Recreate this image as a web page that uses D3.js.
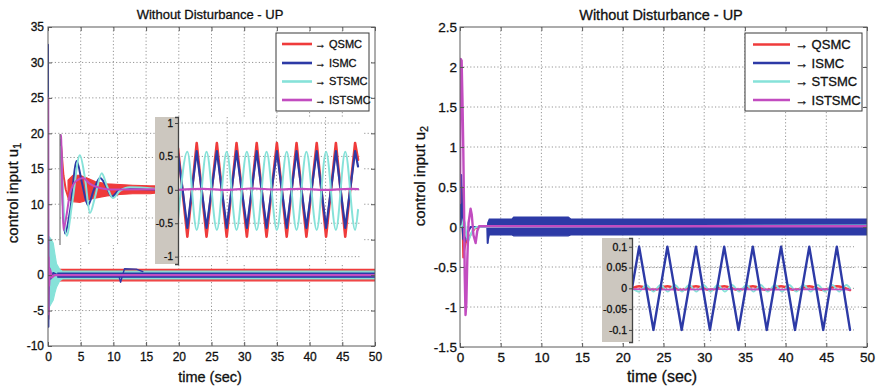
<!DOCTYPE html>
<html>
<head>
<meta charset="utf-8">
<script src="https://cdn.jsdelivr.net/npm/d3@7"></script>
<style>
  body { margin: 0; background: #fff; }
  svg { display: block; }
  text { font-family: Arial, "Liberation Sans", sans-serif; fill: #111; stroke: #111; stroke-width: 0.3px; }
</style>
</head>
<body>
<svg id="fig" width="877" height="391"></svg>
<script>
// ---------------- data ----------------
const seriesNames = ["QSMC", "ISMC", "STSMC", "ISTSMC"];
const timeTicks = [0, 5, 10, 15, 20, 25, 30, 35, 40, 45, 50];
const u1Ticks = [-10, -5, 0, 5, 10, 15, 20, 25, 30, 35];
const u2Ticks = [-1.5, -1, -0.5, 0, 0.5, 1, 1.5, 2, 2.5];

// u1 : start-up transient
const u1QsmcT = [0, 0.03, 0.06, 0.1, 0.2, 0.35, 0.6, 1.0, 1.6];
const u1QsmcV = [0, -3, -6.2, -2.5, 1.5, -0.8, 0.4, -0.2, 0];
const u1IsmcT = [0, 0.02, 0.06, 0.1, 0.2, 0.4, 0.8, 1.5];
const u1IsmcV = [32.5, 10, -7.3, -3, 1, -0.5, 0.3, 0];
const u1IstsmcT = [0, 0.02, 0.05, 0.09, 0.15, 0.3, 0.6, 1.0, 50];
const u1IstsmcV = [25, 5, -5.5, 2.5, -1.5, 0.8, -0.3, 0, 0];
// u1 : chattering envelopes (time, lower, upper)
const u1QsmcBandT = [1.8, 50];
const u1QsmcBandLo = [-0.8, -0.8];
const u1QsmcBandHi = [0.8, 0.8];
const u1IsmcBandT = [1.5, 50];
const u1IsmcBandLo = [-0.3, -0.3];
const u1IsmcBandHi = [0.3, 0.3];
const u1StsmcBandT = [0, 0.2, 0.5, 0.8, 1.05, 1.3, 1.8, 2.2, 50];
const u1StsmcBandLo = [-4.5, -4.5, -4, -3.5, -2.5, -1.7, -0.8, -0.55, -0.55];
const u1StsmcBandHi = [5.4, 5.4, 5, 4.5, 3, 1.6, 0.8, 0.55, 0.55];
// u1 : ISMC excursion around t = 11 s
const u1IsmcBlipT = [10.8, 11.1, 11.4, 11.7, 13.5, 14.5];
const u1IsmcBlipV = [0, -1, 0, 0.9, 0.85, 0.5];

// u1 zoom A : settling (local time, u1 value)
const zaQsmcT = [0.03, 0.12, 0.2, 0.28];
const zaQsmcV = [18.5, 14, 12, 11];
const zaQsmcBandT = [0.28, 0.45, 0.69, 0.94, 1.22, 1.63, 2.08, 2.53, 3.13, 3.3];
const zaQsmcBandLo = [10.6, 10.3, 10.2, 10.5, 10.8, 11.1, 11.3, 11.4, 11.4, 11.5];
const zaQsmcBandHi = [13.3, 14.0, 14.0, 13.6, 13.1, 12.8, 12.7, 12.6, 12.5, 12.5];
const zaIsmcT = [0.03, 0.17, 0.35, 0.58, 0.76, 0.97, 1.18, 1.39, 1.6, 1.8, 2.02, 2.26, 3.3];
const zaIsmcV = [19, 5.8, 9, 16.0, 13, 9.8, 12, 13.6, 12.5, 11.0, 11.8, 12.1, 12];
const zaStsmcT = [0.03, 0.23, 0.42, 0.69, 0.87, 1.04, 1.22, 1.45, 1.63, 1.84, 2.08, 2.43, 3.3];
const zaStsmcV = [18, 5.5, 10, 16.8, 13.5, 8.7, 11, 14.3, 12.5, 10.8, 11.8, 12.3, 12.1];
const zaIstsmcT = [0.0, 0.035, 0.115, 0.21, 0.35, 0.56, 0.8, 1.04, 1.39, 1.74, 3.3];
const zaIstsmcV = [19.8, 19.5, 6.3, 8, 11.5, 13.2, 13.6, 12.8, 12.2, 12, 12.05];
const zaGridT = [1, 2, 3];
const zaGridV = [8, 16.5];

// u1 zoom B : steady-state chattering
const zbT = [0, 0.19, 0.38, 0.58, 0.79, 0.99, 1.19, 1.40, 1.60, 1.80, 2.01, 2.21, 2.41, 2.61, 2.82, 3.01, 3.21, 3.40, 3.60, 3.66];
const zbQsmcV = [0.62, -0.7, 0.7, -0.7, 0.7, -0.7, 0.7, -0.7, 0.7, -0.7, 0.7, -0.7, 0.7, -0.7, 0.7, -0.7, 0.7, -0.7, 0.7, 0.45];
const zbIsmcV = [0.55, -0.57, 0.58, -0.57, 0.58, -0.57, 0.58, -0.57, 0.58, -0.57, 0.58, -0.57, 0.58, -0.57, 0.58, -0.57, 0.58, -0.57, 0.58, 0.35];
const zbStsmcV = [-0.45, 0.57, -0.6, 0.57, -0.6, 0.57, -0.6, 0.57, -0.6, 0.57, -0.6, 0.57, -0.6, 0.57, -0.6, 0.57, -0.6, 0.57, -0.6, -0.3];
const zbIstsmcT = [0, 0.5, 1.0, 1.5, 2.0, 2.5, 3.0, 3.5, 3.66];
const zbIstsmcV = [0.0, 0.015, 0.0, 0.02, 0.005, 0.015, 0.0, 0.015, 0.01];
const zbTicksV = [-1, -0.5, 0, 0.5, 1];
const zbGridT = [1, 2, 3];

// u2 : start-up transient
const u2QsmcT = [0, 0.2, 0.3, 0.4, 0.5, 0.7, 1.0, 1.4, 1.8, 2.2, 50];
const u2QsmcV = [0.2, 0.5, 0.1, -0.38, -0.3, -0.2, -0.15, -0.08, -0.02, 0, 0];
const u2IsmcT = [0, 0.15, 0.22, 0.3, 0.4, 0.6, 0.9, 1.3, 3.35, 3.4];
const u2IsmcV = [0, 0.65, 0.4, 0, -0.15, -0.18, -0.08, 0, 0, -0.2];
const u2StsmcT = [0, 0.3, 0.45, 0.6, 0.8, 1.05, 1.3, 1.6, 2.0, 50];
const u2StsmcV = [0, 0.02, 0.1, 0.05, -0.12, -0.17, -0.1, -0.03, 0, 0.02];
const u2IstsmcT = [0, 0.08, 0.2, 0.3, 0.4, 0.5, 0.58, 0.68, 0.78, 0.9, 1.05, 1.3, 1.45, 1.65, 1.92, 2.12, 2.35, 50];
const u2IstsmcV = [0.3, 2.1, 2.08, 1.6, 1.0, 0.2, -0.6, -1.1, -0.95, -0.4, 0.05, 0.23, 0.15, -0.1, -0.2, -0.05, 0.01, 0.01];
// u2 : ISMC chattering envelope
const u2IsmcBandT = [3.4, 3.6, 6.4, 6.6, 13.3, 13.6, 50];
const u2IsmcBandLo = [-0.2, -0.1, -0.1, -0.11, -0.11, -0.1, -0.1];
const u2IsmcBandHi = [0.05, 0.1, 0.1, 0.125, 0.125, 0.1, 0.1];

// u2 zoom : steady-state chattering
const zcIsmcT = [0.9, 1.0, 1.2, 1.395, 1.595, 1.795, 1.99, 2.19, 2.39, 2.59, 2.785, 2.985, 3.18, 3.38, 3.575, 3.765, 3.95];
const zcIsmcV = [0, 0.1, -0.1, 0.1, -0.1, 0.1, -0.1, 0.1, -0.1, 0.1, -0.1, 0.1, -0.1, 0.1, -0.1, 0.1, -0.1];
const zcQsmcV = [0, 0.005, -0.004, 0.005, -0.004, 0.005, -0.004, 0.005, -0.004, 0.005, -0.004, 0.005, -0.004, 0.005, -0.004, 0.005, -0.004];
const zcStsmcT = [0.9, 1.0, 1.1, 1.2, 1.3, 1.4, 1.5, 1.6, 1.7, 1.8, 1.9, 2.0, 2.1, 2.2, 2.3, 2.4, 2.5, 2.6, 2.7, 2.8, 2.9, 3.0, 3.1, 3.2, 3.3, 3.4, 3.5, 3.6, 3.7, 3.8, 3.9, 3.95];
const zcStsmcV = [0, -0.008, 0.008, -0.008, 0.008, -0.008, 0.008, -0.008, 0.008, -0.008, 0.008, -0.008, 0.008, -0.008, 0.008, -0.008, 0.008, -0.008, 0.008, -0.008, 0.008, -0.008, 0.008, -0.008, 0.008, -0.008, 0.008, -0.008, 0.008, -0.008, 0.008, 0];
const zcIstsmcT = [0.9, 1.5, 2.2, 2.9, 3.5, 3.95];
const zcIstsmcV = [-0.002, -0.003, -0.002, -0.003, -0.002, -0.003];
const zcTicksV = [-0.1, -0.05, 0, 0.05, 0.1];
const zcGridT = [1, 2, 3];

// ---------------- styles ----------------
const COLOR = { QSMC: "#ef3b3b", ISMC: "#2d3aa6", STSMC: "#86e2d9", ISTSMC: "#c24cc0" };
const GRID = "#8a8a8a";
const AXIS = "#5a5a5a";
const PANEL = "#ccc7bf";
const FONT = "Arial, 'Liberation Sans', sans-serif";

const svg = d3.select("#fig");
svg.append("rect").attr("width", 877).attr("height", 391).attr("fill", "#fff");

const pairs = (T, V) => T.map((t, i) => [t, V[i]]);
const triples = (T, L, H) => T.map((t, i) => [t, L[i], H[i]]);

function line(g, x, y, data, color, width, curve) {
  g.append("path").datum(data)
    .attr("fill", "none").attr("stroke", color).attr("stroke-width", width)
    .attr("stroke-linejoin", "round").attr("stroke-linecap", "round")
    .attr("d", d3.line().x(d => x(d[0])).y(d => y(d[1])).curve(curve || d3.curveLinear));
}
function band(g, x, y, data, color) {
  g.append("path").datum(data)
    .attr("fill", color).attr("stroke", color).attr("stroke-width", 1.2)
    .attr("d", d3.area().x(d => x(d[0])).y0(d => y(d[1])).y1(d => y(d[2])));
}
function dotted(sel, w) {
  sel.attr("stroke", GRID).attr("stroke-width", w || 0.9).attr("stroke-dasharray", "1.2,2.2");
}

let clipId = 0;
function clipRect(x0, y0, w, h) {
  const id = "clip" + (clipId++);
  svg.append("clipPath").attr("id", id).append("rect")
    .attr("x", x0).attr("y", y0).attr("width", w).attr("height", h);
  return "url(#" + id + ")";
}

// dotted grid of a main axes
function grid(x, y, xt, yt) {
  const [x0, x1] = x.range(), [y1, y0] = y.range();
  const gg = svg.append("g");
  xt.slice(1, -1).forEach(t => dotted(gg.append("line").attr("x1", x(t)).attr("x2", x(t)).attr("y1", y0).attr("y2", y1)));
  yt.slice(1, -1).forEach(v => dotted(gg.append("line").attr("x1", x0).attr("x2", x1).attr("y1", y(v)).attr("y2", y(v))));
}
// box, inward ticks on all four sides and tick labels
function frame(x, y, xt, yt, fontSize, xPad, yPad) {
  const [x0, x1] = x.range(), [y1, y0] = y.range();
  const g = svg.append("g");
  g.append("rect").attr("x", x0).attr("y", y0).attr("width", x1 - x0).attr("height", y1 - y0)
    .attr("fill", "none").attr("stroke", AXIS).attr("stroke-width", 1);
  const style = a => {
    a.select(".domain").remove();
    a.selectAll(".tick line").attr("stroke", AXIS);
    a.selectAll("text").style("font-size", fontSize + "px").style("font-family", FONT);
  };
  g.append("g").attr("transform", `translate(0,${y1})`)
    .call(d3.axisBottom(x).tickValues(xt).tickSize(-4).tickPadding(xPad).tickFormat(d => String(d))).call(style);
  g.append("g").attr("transform", `translate(${x0},0)`)
    .call(d3.axisLeft(y).tickValues(yt).tickSize(-4).tickPadding(yPad).tickFormat(d => String(d))).call(style);
  g.append("g").attr("transform", `translate(0,${y0})`)
    .call(d3.axisTop(x).tickValues(xt).tickSize(-4).tickFormat("")).call(style);
  g.append("g").attr("transform", `translate(${x1},0)`)
    .call(d3.axisRight(y).tickValues(yt).tickSize(-4).tickFormat("")).call(style);
}

function legend(x0, y0, w, h, lx0, lx1, tx, rows, fontSize) {
  const g = svg.append("g");
  g.append("rect").attr("x", x0).attr("y", y0).attr("width", w).attr("height", h)
    .attr("fill", "#fff").attr("stroke", "#3a3a3a").attr("stroke-width", 1);
  seriesNames.forEach((n, i) => {
    g.append("line").attr("x1", lx0).attr("x2", lx1).attr("y1", rows[i]).attr("y2", rows[i])
      .attr("stroke", COLOR[n]).attr("stroke-width", 2.6);
    g.append("text").attr("x", tx).attr("y", rows[i]).attr("dy", "0.36em")
      .style("font-size", fontSize + "px").text("\u2192 " + n);
  });
}

function yLabel(cx, cy, sub, fontSize) {
  const t = svg.append("text").attr("transform", `translate(${cx},${cy}) rotate(-90)`)
    .attr("text-anchor", "middle").style("font-size", fontSize + "px");
  t.append("tspan").text("control input u");
  t.append("tspan").attr("dy", "0.3em").style("font-size", (fontSize * 0.72) + "px").text(sub);
}

function insetAxis(g, x, y, ticks, fontSize) {
  const ax = g.append("g").attr("transform", `translate(${x},0)`)
    .call(d3.axisLeft(y).tickValues(ticks).tickSize(3).tickPadding(2).tickFormat(d => String(d)));
  ax.select(".domain").attr("stroke", "#444").attr("stroke-width", 1.3);
  ax.selectAll(".tick line").attr("stroke", "#444");
  ax.selectAll("text").style("font-size", fontSize + "px").style("font-family", FONT);
}

// ================= left panel : u1 =================
const xL = d3.scaleLinear().domain([0, 50]).range([48, 375]);
const yL = d3.scaleLinear().domain([-10, 35]).range([346, 27]);
grid(xL, yL, timeTicks, u1Ticks);
{
  const g = svg.append("g").attr("clip-path", clipRect(48, 27, 327, 319));
  band(g, xL, yL, triples(u1QsmcBandT, u1QsmcBandLo, u1QsmcBandHi), COLOR.QSMC);
  line(g, xL, yL, pairs(u1QsmcT, u1QsmcV), COLOR.QSMC, 2);
  band(g, xL, yL, triples(u1StsmcBandT, u1StsmcBandLo, u1StsmcBandHi), COLOR.STSMC);
  band(g, xL, yL, triples(u1IsmcBandT, u1IsmcBandLo, u1IsmcBandHi), COLOR.ISMC);
  line(g, xL, yL, pairs(u1IsmcT, u1IsmcV), COLOR.ISMC, 2);
  line(g, xL, yL, pairs(u1IsmcBlipT, u1IsmcBlipV), COLOR.ISMC, 1.4);
  line(g, xL, yL, pairs(u1IstsmcT, u1IstsmcV), COLOR.ISTSMC, 2.4);
}

// zoom A : settling of u1
{
  const xa = d3.scaleLinear().domain([0, 3.3]).range([60, 155]);
  const ya = d3.scaleLinear().domain([4.2, 19.8]).range([245, 134]);
  const g = svg.append("g");
  g.append("rect").attr("x", 60).attr("y", 134).attr("width", 95).attr("height", 111).attr("fill", "#fff");
  zaGridT.forEach(t => dotted(g.append("line").attr("x1", xa(t)).attr("x2", xa(t)).attr("y1", 134).attr("y2", 245)));
  zaGridV.forEach(v => dotted(g.append("line").attr("x1", 60).attr("x2", 155).attr("y1", ya(v)).attr("y2", ya(v))));
  const d = g.append("g").attr("clip-path", clipRect(60, 134, 95, 111));
  band(d, xa, ya, triples(zaQsmcBandT, zaQsmcBandLo, zaQsmcBandHi), COLOR.QSMC);
  line(d, xa, ya, pairs(zaQsmcT, zaQsmcV), COLOR.QSMC, 2);
  line(d, xa, ya, pairs(zaIsmcT, zaIsmcV), COLOR.ISMC, 2, d3.curveMonotoneX);
  line(d, xa, ya, pairs(zaStsmcT, zaStsmcV), COLOR.STSMC, 2, d3.curveMonotoneX);
  line(d, xa, ya, pairs(zaIstsmcT, zaIstsmcV), COLOR.ISTSMC, 2, d3.curveMonotoneX);
  g.append("line").attr("x1", 60).attr("x2", 60).attr("y1", 134).attr("y2", 245).attr("stroke", "#777").attr("stroke-width", 1.2);
}

// zoom B : steady-state chattering of u1
{
  const xb = d3.scaleLinear().domain([0, 3.7]).range([178, 360]);
  const yb = d3.scaleLinear().domain([-1.11, 1.09]).range([264, 117]);
  const g = svg.append("g");
  g.append("rect").attr("x", 155).attr("y", 117).attr("width", 23).attr("height", 147).attr("fill", PANEL);
  g.append("rect").attr("x", 178).attr("y", 117).attr("width", 184).attr("height", 147).attr("fill", "#fff");
  zbGridT.forEach(t => dotted(g.append("line").attr("x1", xb(t)).attr("x2", xb(t)).attr("y1", 117).attr("y2", 264)));
  zbTicksV.forEach(v => dotted(g.append("line").attr("x1", 178).attr("x2", 360).attr("y1", yb(v)).attr("y2", yb(v))));
  const d = g.append("g").attr("clip-path", clipRect(178, 117, 184, 147));
  line(d, xb, yb, pairs(zbT, zbQsmcV), COLOR.QSMC, 2.6);
  line(d, xb, yb, pairs(zbT, zbIsmcV), COLOR.ISMC, 2.2);
  line(d, xb, yb, pairs(zbT, zbStsmcV), COLOR.STSMC, 2, d3.curveMonotoneX);
  line(d, xb, yb, pairs(zbIstsmcT, zbIstsmcV), COLOR.ISTSMC, 2.2, d3.curveMonotoneX);
  insetAxis(g, 178, yb, zbTicksV, 10);
}
frame(xL, yL, timeTicks, u1Ticks, 12, 6.5, 4);
legend(276, 33, 93, 78, 282, 312, 315, [44, 63, 81.5, 100], 11);
svg.append("text").attr("x", 210).attr("y", 19).attr("text-anchor", "middle").style("font-size", "13px").text("Without Disturbance - UP");
svg.append("text").attr("x", 210).attr("y", 382).attr("text-anchor", "middle").style("font-size", "14.5px").text("time (sec)");
yLabel(18, 193, "1", 15);

// ================= right panel : u2 =================
const xR = d3.scaleLinear().domain([0, 50]).range([460, 867]);
const yR = d3.scaleLinear().domain([-1.5, 2.5]).range([347, 27]);
grid(xR, yR, timeTicks, u2Ticks);
{
  const g = svg.append("g").attr("clip-path", clipRect(460, 27, 407, 320));
  line(g, xR, yR, pairs(u2QsmcT, u2QsmcV), COLOR.QSMC, 2);
  band(g, xR, yR, triples(u2IsmcBandT, u2IsmcBandLo, u2IsmcBandHi), COLOR.ISMC);
  line(g, xR, yR, pairs(u2IsmcT, u2IsmcV), COLOR.ISMC, 2);
  line(g, xR, yR, pairs(u2StsmcT, u2StsmcV), COLOR.STSMC, 2);
  line(g, xR, yR, pairs(u2IstsmcT, u2IstsmcV), COLOR.ISTSMC, 2.4);
}
// zoom C : steady-state chattering of u2
{
  const xc = d3.scaleLinear().domain([0.9, 4.0]).range([632, 853.6]);
  const yc = d3.scaleLinear().domain([-0.129, 0.121]).range([342, 238]);
  const g = svg.append("g");
  g.append("rect").attr("x", 602).attr("y", 238).attr("width", 30).attr("height", 104).attr("fill", PANEL);
  zcGridT.forEach(t => dotted(g.append("line").attr("x1", xc(t)).attr("x2", xc(t)).attr("y1", 238).attr("y2", 342)));
  zcTicksV.forEach(v => dotted(g.append("line").attr("x1", 632).attr("x2", 854).attr("y1", yc(v)).attr("y2", yc(v))));
  const d = g.append("g").attr("clip-path", clipRect(632, 238, 224, 104));
  line(d, xc, yc, pairs(zcIsmcT, zcQsmcV), COLOR.QSMC, 2.6, d3.curveMonotoneX);
  line(d, xc, yc, pairs(zcStsmcT, zcStsmcV), COLOR.STSMC, 1.8, d3.curveMonotoneX);
  line(d, xc, yc, pairs(zcIstsmcT, zcIstsmcV), COLOR.ISTSMC, 1.8);
  line(d, xc, yc, pairs(zcIsmcT, zcIsmcV), COLOR.ISMC, 2.4);
  insetAxis(g, 632, yc, zcTicksV, 10.5);
}
frame(xR, yR, timeTicks, u2Ticks, 13.5, 5, 3);
legend(745, 33, 117, 78, 753, 790, 795, [44.5, 63, 81.5, 100], 13);
svg.append("text").attr("x", 661).attr("y", 20).attr("text-anchor", "middle").style("font-size", "14.5px").text("Without Disturbance - UP");
svg.append("text").attr("x", 662).attr("y", 382).attr("text-anchor", "middle").style("font-size", "16px").text("time (sec)");
yLabel(425, 176, "2", 15);
</script>
</body>
</html>
